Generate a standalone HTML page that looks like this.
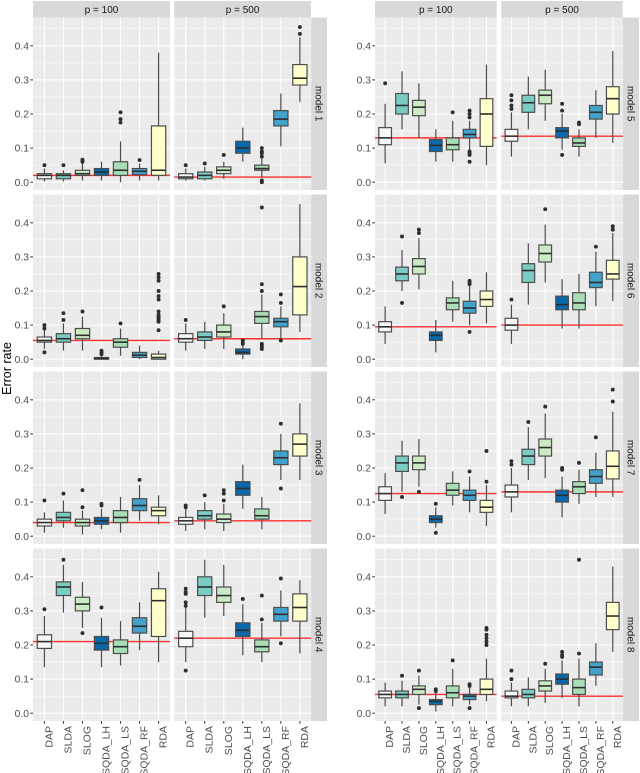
<!DOCTYPE html>
<html lang="en">
<head>
<meta charset="utf-8">
<title>Error rate boxplots</title>
<style>
html,body{margin:0;padding:0;background:#fff;}
svg{display:block;font-family:"Liberation Sans",sans-serif;filter:blur(0.3px);}
</style>
</head>
<body>
<svg id="chart" xmlns="http://www.w3.org/2000/svg" width="640" height="773" viewBox="0 0 640 773">
  <text transform="translate(11,368.5) rotate(-90)" text-anchor="middle" font-size="12.5" fill="#000">Error rate</text>
  <g font-size="10" fill="#1a1a1a" text-anchor="middle">
    <rect x="33" y="1" width="137" height="16.5" fill="#d9d9d9"/>
    <rect x="174.3" y="1" width="136.7" height="16.5" fill="#d9d9d9"/>
    <rect x="375" y="1" width="121.7" height="16.5" fill="#d9d9d9"/>
    <rect x="501.3" y="1" width="121.4" height="16.5" fill="#d9d9d9"/>
    <text x="101.5" y="13">p = 100</text>
    <text x="242.6" y="13">p = 500</text>
    <text x="435.8" y="13">p = 100</text>
    <text x="562" y="13">p = 500</text>
  </g>
  <g font-size="10" fill="#1a1a1a" text-anchor="middle">
    <rect x="311" y="17.5" width="16" height="172.5" fill="#d9d9d9"/>
    <rect x="311" y="194.5" width="16" height="172.5" fill="#d9d9d9"/>
    <rect x="311" y="371.5" width="16" height="172.5" fill="#d9d9d9"/>
    <rect x="311" y="548.5" width="16" height="172.5" fill="#d9d9d9"/>
    <rect x="622.7" y="17.5" width="16.3" height="172.5" fill="#d9d9d9"/>
    <rect x="622.7" y="194.5" width="16.3" height="172.5" fill="#d9d9d9"/>
    <rect x="622.7" y="371.5" width="16.3" height="172.5" fill="#d9d9d9"/>
    <rect x="622.7" y="548.5" width="16.3" height="172.5" fill="#d9d9d9"/>
    <text transform="translate(315.5,103.7) rotate(90)">model 1</text>
    <text transform="translate(315.5,280.7) rotate(90)">model 2</text>
    <text transform="translate(315.5,457.7) rotate(90)">model 3</text>
    <text transform="translate(315.5,634.7) rotate(90)">model 4</text>
    <text transform="translate(627.3,103.7) rotate(90)">model 5</text>
    <text transform="translate(627.3,280.7) rotate(90)">model 6</text>
    <text transform="translate(627.3,457.7) rotate(90)">model 7</text>
    <text transform="translate(627.3,634.7) rotate(90)">model 8</text>
  </g>
</svg>
<script>
// Categories and axis ticks
const methods = ["DAP", "SLDA", "SLOG", "SQDA_LH", "SQDA_LS", "SQDA_RF", "RDA"];
const methodColors = ["#f7f7f7", "#7bccc4", "#ccebc5", "#0868ac", "#a8ddb5", "#43a2ca", "#ffffcc"];
const yTicks = [0, 0.1, 0.2, 0.3, 0.4];
const yMinorTicks = [0.05, 0.15, 0.25, 0.35, 0.45];
const yTickLabels = ["0.0", "0.1", "0.2", "0.3", "0.4"];

// Each row: [whisker low, q1, median, q3, whisker high, [outliers]] in method order
const model1p100 = [
  [0.002,0.01,0.02,0.025,0.04,[0.05]],
  [0.002,0.01,0.02,0.025,0.035,[0.05]],
  [0.005,0.02,0.025,0.035,0.055,[0.06,0.063,0.066]],
  [0.005,0.02,0.03,0.04,0.06,[]],
  [0,0.02,0.035,0.06,0.12,[0.175,0.185,0.205]],
  [0.005,0.022,0.032,0.04,0.055,[0.065]],
  [0.005,0.02,0.035,0.165,0.38,[]]
];
const model1p500 = [
  [0.005,0.01,0.015,0.025,0.04,[0.05]],
  [0.005,0.01,0.02,0.03,0.045,[0.055]],
  [0.01,0.025,0.035,0.045,0.06,[0.08]],
  [0.06,0.085,0.1,0.12,0.16,[]],
  [0.015,0.035,0.04,0.05,0.07,[0,0.002,0.005,0.075,0.085,0.09,0.1]],
  [0.105,0.165,0.185,0.21,0.26,[]],
  [0.235,0.285,0.305,0.345,0.425,[0.435,0.455]]
];
const model2p100 = [
  [0.03,0.05,0.055,0.065,0.085,[0.02,0.09,0.1]],
  [0.025,0.05,0.06,0.075,0.105,[0.115,0.135]],
  [0.025,0.06,0.07,0.09,0.125,[0.14]],
  [0,0,0.002,0.005,0.01,[0.015,0.02,0.025]],
  [0.01,0.035,0.05,0.06,0.09,[0.105]],
  [0,0.005,0.012,0.02,0.04,[]],
  [0,0,0.005,0.015,0.025,[0.085,0.11,0.115,0.12,0.125,0.13,0.14,0.175,0.185,0.2,0.23,0.24,0.25]]
];
const model2p500 = [
  [0.025,0.05,0.06,0.075,0.105,[0.115]],
  [0.03,0.055,0.065,0.08,0.11,[]],
  [0.03,0.065,0.08,0.1,0.135,[0.155]],
  [0,0.015,0.02,0.03,0.04,[0.045,0.05,0.055]],
  [0.06,0.105,0.125,0.14,0.19,[0.03,0.035,0.04,0.045,0.2,0.22,0.445]],
  [0.06,0.095,0.11,0.12,0.155,[0.055,0.165,0.19]],
  [0.08,0.13,0.213,0.3,0.455,[]]
];
const model3p100 = [
  [0.01,0.03,0.04,0.05,0.07,[0.105]],
  [0.025,0.045,0.055,0.07,0.105,[0.125]],
  [0.005,0.03,0.04,0.05,0.075,[0.085,0.135]],
  [0.02,0.035,0.045,0.055,0.08,[0.09,0.095]],
  [0.01,0.04,0.055,0.075,0.115,[]],
  [0.045,0.075,0.09,0.11,0.15,[0.165]],
  [0.035,0.06,0.075,0.085,0.12,[]]
];
const model3p500 = [
  [0.015,0.035,0.045,0.055,0.08,[0.085,0.09]],
  [0.02,0.05,0.06,0.075,0.1,[0.12]],
  [0.015,0.04,0.05,0.065,0.095,[0.105,0.125,0.135]],
  [0.08,0.12,0.14,0.16,0.21,[]],
  [0.02,0.05,0.06,0.08,0.115,[]],
  [0.165,0.21,0.23,0.25,0.3,[0.14,0.33]],
  [0.165,0.235,0.27,0.3,0.39,[]]
];
const model4p100 = [
  [0.135,0.19,0.21,0.23,0.285,[0.305]],
  [0.295,0.345,0.37,0.385,0.435,[0.45]],
  [0.25,0.3,0.32,0.34,0.385,[0.235]],
  [0.135,0.185,0.205,0.225,0.28,[0.31]],
  [0.14,0.175,0.195,0.215,0.27,[]],
  [0.185,0.235,0.255,0.28,0.325,[]],
  [0.15,0.225,0.33,0.365,0.415,[]]
];
const model4p500 = [
  [0.15,0.195,0.22,0.24,0.31,[0.125,0.315,0.325,0.35,0.355,0.365]],
  [0.28,0.345,0.37,0.4,0.45,[]],
  [0.285,0.325,0.345,0.37,0.435,[]],
  [0.17,0.225,0.243,0.265,0.32,[0.335]],
  [0.15,0.18,0.195,0.215,0.265,[0.275,0.345]],
  [0.225,0.27,0.29,0.31,0.36,[0.205,0.395]],
  [0.175,0.27,0.31,0.35,0.39,[]]
];
const model5p100 = [
  [0.055,0.11,0.13,0.16,0.23,[0.29]],
  [0.155,0.2,0.225,0.26,0.325,[]],
  [0.13,0.195,0.22,0.24,0.29,[]],
  [0.06,0.09,0.108,0.125,0.155,[]],
  [0.06,0.095,0.11,0.13,0.18,[0.205]],
  [0.095,0.13,0.14,0.155,0.18,[0.06,0.08,0.085,0.09,0.19,0.2,0.21]],
  [0.05,0.105,0.2,0.245,0.345,[]]
];
const model5p500 = [
  [0.075,0.12,0.135,0.155,0.205,[0.215,0.225,0.24,0.255]],
  [0.155,0.205,0.233,0.255,0.31,[]],
  [0.18,0.23,0.255,0.27,0.33,[]],
  [0.095,0.13,0.15,0.16,0.2,[0.08,0.21,0.23]],
  [0.075,0.105,0.115,0.13,0.155,[0.17,0.175]],
  [0.13,0.185,0.205,0.225,0.27,[]],
  [0.115,0.2,0.245,0.28,0.385,[]]
];
const model6p100 = [
  [0.045,0.08,0.095,0.11,0.155,[]],
  [0.2,0.23,0.25,0.27,0.32,[0.165,0.36]],
  [0.205,0.25,0.272,0.295,0.355,[0.37,0.38]],
  [0.02,0.055,0.07,0.08,0.115,[]],
  [0.11,0.145,0.165,0.18,0.23,[]],
  [0.1,0.135,0.15,0.17,0.215,[0.08,0.22,0.225,0.23]],
  [0.105,0.155,0.175,0.2,0.255,[]]
];
const model6p500 = [
  [0.045,0.085,0.1,0.12,0.16,[0.175]],
  [0.16,0.225,0.26,0.28,0.34,[]],
  [0.225,0.285,0.31,0.335,0.395,[0.44]],
  [0.09,0.145,0.16,0.185,0.235,[]],
  [0.09,0.145,0.165,0.195,0.25,[]],
  [0.155,0.21,0.225,0.255,0.315,[0.33]],
  [0.17,0.235,0.25,0.29,0.37,[0.38,0.39]]
];
const model7p100 = [
  [0.065,0.105,0.125,0.145,0.185,[]],
  [0.13,0.19,0.215,0.235,0.28,[0.115]],
  [0.145,0.195,0.215,0.235,0.285,[0.13]],
  [0.025,0.04,0.05,0.06,0.085,[0.01,0.095]],
  [0.09,0.12,0.135,0.155,0.19,[]],
  [0.07,0.105,0.12,0.135,0.175,[0.19]],
  [0.03,0.07,0.085,0.105,0.15,[0.16,0.25]]
];
const model7p500 = [
  [0.07,0.115,0.13,0.15,0.2,[0.21,0.22]],
  [0.165,0.21,0.235,0.255,0.32,[0.335]],
  [0.17,0.235,0.26,0.285,0.36,[0.38]],
  [0.055,0.1,0.12,0.135,0.175,[0.195,0.2]],
  [0.095,0.125,0.145,0.16,0.195,[0.215]],
  [0.115,0.155,0.175,0.195,0.245,[0.29]],
  [0.115,0.168,0.205,0.25,0.365,[0.395,0.43]]
];
const model8p100 = [
  [0.02,0.045,0.055,0.065,0.09,[]],
  [0.02,0.045,0.055,0.065,0.095,[0.11]],
  [0.025,0.055,0.07,0.08,0.11,[0.015,0.125]],
  [0.005,0.025,0.035,0.04,0.06,[0.065,0.07]],
  [0.02,0.045,0.06,0.08,0.13,[0.155]],
  [0.025,0.04,0.05,0.055,0.075,[0.015,0.08,0.085]],
  [0.035,0.055,0.07,0.1,0.16,[0.2,0.21,0.22,0.23,0.245,0.25]]
];
const model8p500 = [
  [0.02,0.045,0.05,0.065,0.09,[0.1,0.125]],
  [0.02,0.045,0.055,0.07,0.105,[]],
  [0.03,0.065,0.08,0.095,0.13,[0.145]],
  [0.045,0.085,0.1,0.115,0.155,[0.165,0.17,0.18]],
  [0.02,0.055,0.075,0.1,0.16,[0.175,0.45]],
  [0.08,0.112,0.135,0.15,0.205,[]],
  [0.18,0.245,0.285,0.325,0.43,[]]
];

// Reference error rates (red lines): [p = 100, p = 500] per model
const refModel1 = [0.02, 0.015];
const refModel2 = [0.055, 0.06];
const refModel3 = [0.04, 0.045];
const refModel4 = [0.21, 0.22];
const refModel5 = [0.13, 0.135];
const refModel6 = [0.095, 0.1];
const refModel7 = [0.125, 0.13];
const refModel8 = [0.055, 0.05];

const modelStats = [
  [model1p100, model1p500], [model2p100, model2p500], [model3p100, model3p500], [model4p100, model4p500],
  [model5p100, model5p500], [model6p100, model6p500], [model7p100, model7p500], [model8p100, model8p500]
];
const modelRefs = [refModel1, refModel2, refModel3, refModel4, refModel5, refModel6, refModel7, refModel8];
const pLabels = ["p100", "p500"];

const svg = document.getElementById('chart');
const NS = 'http://www.w3.org/2000/svg';

// Layout functions
function panelLeft(chartCol, pIdx) {
  const base = chartCol === 0 ? 33 : 375;
  const pitch = chartCol === 0 ? 141.3 : 126.3;
  return base + pIdx * pitch;
}
function panelWidth(chartCol) { return chartCol === 0 ? 137 : 121.6; }
function panelTop(row) { return 17.5 + row * 177; }
const PANEL_H = 172.5;
function yScale(row, v) { return panelTop(row) + 164.7 - v * 341; }
function xScale(chartCol, pIdx, i) {
  const w = panelWidth(chartCol);
  const step = w / (methods.length - 1 + 1.2);
  return panelLeft(chartCol, pIdx) + step * (0.6 + i);
}
function boxWidth(chartCol) {
  return 0.75 * panelWidth(chartCol) / (methods.length - 1 + 1.2);
}
function mk(tag, attrs, parent) {
  const el = document.createElementNS(NS, tag);
  for (const k in attrs) el.setAttribute(k, attrs[k]);
  parent.appendChild(el);
  return el;
}

modelStats.forEach(function (pair, m) {
  const chartCol = m < 4 ? 0 : 1;
  const row = m % 4;
  const modelNo = m + 1;

  // y axis ticks and labels on the first panel of each chart
  const left0 = panelLeft(chartCol, 0);
  yTicks.forEach(function (t, k) {
    const yy = yScale(row, t);
    const tick = mk('line', {x1: left0 - 2.7, x2: left0, y1: yy, y2: yy, stroke: '#333', 'stroke-width': 1}, svg);
    
    
    const lab = mk('text', {x: left0 - 4, y: yy + 3.6, 'text-anchor': 'end', 'font-size': 10.3, fill: '#4d4d4d'}, svg);
    lab.textContent = yTickLabels[k];
    
    
  });

  pair.forEach(function (stats, p) {
    const left = panelLeft(chartCol, p);
    const w = panelWidth(chartCol);
    const top = panelTop(row);
    const g = mk('g', {}, svg);
    
    

    const bg = mk('rect', {x: left, y: top, width: w, height: PANEL_H, fill: '#ebebeb'}, g);
    
    

    yMinorTicks.forEach(function (t) {
      const yy = yScale(row, t);
      const gl = mk('line', {x1: left, x2: left + w, y1: yy, y2: yy, stroke: '#fff', 'stroke-width': 0.55}, g);
      
      
    });
    yTicks.forEach(function (t) {
      const yy = yScale(row, t);
      const gl = mk('line', {x1: left, x2: left + w, y1: yy, y2: yy, stroke: '#fff', 'stroke-width': 1.07}, g);
      
      
    });
    methods.forEach(function (name, i) {
      const xx = xScale(chartCol, p, i);
      const gl = mk('line', {x1: xx, x2: xx, y1: top, y2: top + PANEL_H, stroke: '#fff', 'stroke-width': 1.07}, g);
      
      
    });

    const refY = yScale(row, modelRefs[m][p]);
    const ref = mk('line', {x1: left, x2: left + w, y1: refY, y2: refY, stroke: '#ff3030', 'stroke-width': 1.4}, g);
    
    

    const bw = boxWidth(chartCol);
    stats.forEach(function (s, i) {
      const xx = xScale(chartCol, p, i);
      const boxG = mk('g', {}, g);
      
      

      const whisker = mk('line', {x1: xx, x2: xx, y1: yScale(row, s[0]), y2: yScale(row, s[4]), stroke: '#4d4d4d', 'stroke-width': 1.2}, boxG);
      
      

      const yQ3 = yScale(row, s[3]);
      const yQ1 = yScale(row, s[1]);
      const rect = mk('rect', {x: xx - bw / 2, y: yQ3, width: bw, height: yQ1 - yQ3, fill: methodColors[i], stroke: '#4d4d4d', 'stroke-width': 1.2}, boxG);
      
      

      const yMed = yScale(row, s[2]);
      const med = mk('line', {x1: xx - bw / 2, x2: xx + bw / 2, y1: yMed, y2: yMed, stroke: '#2e2e2e', 'stroke-width': 1.6}, boxG);
      
      

      s[5].forEach(function (o) {
        const dot = mk('circle', {cx: xx, cy: yScale(row, o), r: 1.95, fill: '#2e2e2e'}, boxG);
        
        
      });
    });

    // x axis ticks and labels on the bottom row
    if (row === 3) {
      const bottom = top + PANEL_H;
      methods.forEach(function (name, i) {
        const xx = xScale(chartCol, p, i);
        const tick = mk('line', {x1: xx, x2: xx, y1: bottom, y2: bottom + 2.7, stroke: '#333', 'stroke-width': 1}, svg);
        
        
        const lab = mk('text', {transform: 'translate(' + (xx + 8) + ',' + (bottom + 5) + ') rotate(-90)', 'text-anchor': 'end', 'font-size': 10.5, fill: '#4d4d4d'}, svg);
        lab.textContent = name;
        
        
      });
    }
  });
});
</script>
</body>
</html>
